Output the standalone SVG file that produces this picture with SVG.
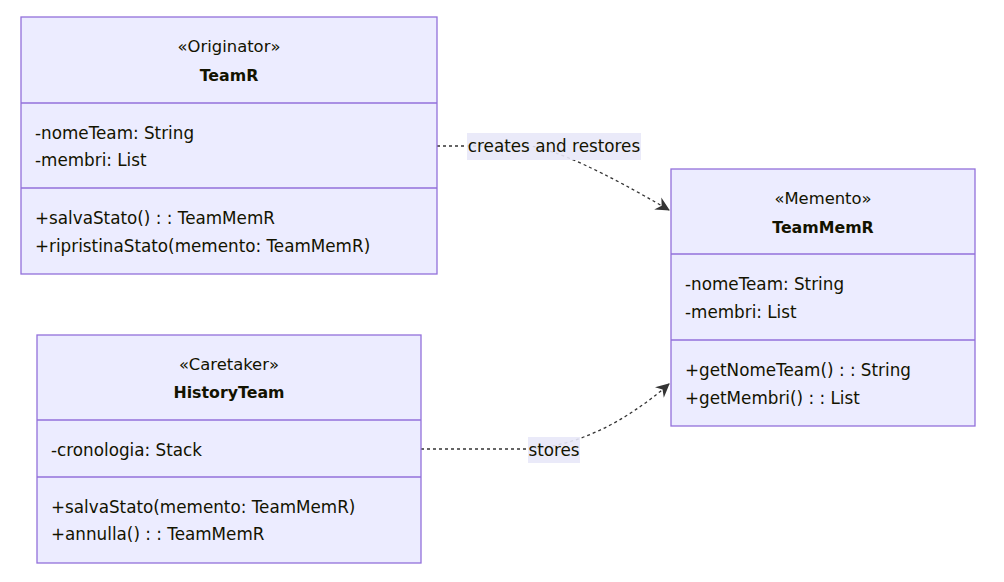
<svg xmlns="http://www.w3.org/2000/svg" width="1004" height="582" viewBox="0 0 1004 582">
<style>
.box{fill:#ECECFF;stroke:#9370DB;stroke-width:1.3}
.div{stroke:#9370DB;stroke-width:1.3}
text{font-family:"DejaVu Sans",Verdana,sans-serif;font-size:16.8px;fill:#131300}
.c{text-anchor:middle}
.s{font-size:16.4px}
.b{font-weight:bold;font-size:15.8px}
.edge{fill:none;stroke:#333;stroke-width:1.3;stroke-dasharray:3,3}
.lbl{fill:#E8E8F8;opacity:0.9}
</style>
<defs>
<marker id="arr" viewBox="0 0 14 14" refX="13" refY="7" markerWidth="14" markerHeight="14" markerUnits="userSpaceOnUse" orient="auto">
<path d="M0,0 L14,7 L0,14 L4.5,7 z" fill="#333"/>
</marker>
</defs>
<g id="connectors">
<path class="edge" d="M437,146 L530,146 Q 570,152 669,210" marker-end="url(#arr)"/>
<rect class="lbl" x="467" y="133" width="174" height="27"/>
<text x="554" y="152" class="c">creates and restores</text>
<path class="edge" d="M421,449 L530,449 Q 600,444 669,384" marker-end="url(#arr)"/>
<rect class="lbl" x="528" y="437" width="52" height="26"/>
<text x="554" y="456" class="c">stores</text>
</g>
<g id="TeamR">
<rect class="box" x="21" y="17" width="416" height="257"/>
<line class="div" x1="21" y1="103" x2="437" y2="103"/>
<line class="div" x1="21" y1="188" x2="437" y2="188"/>
<text x="229" y="52" class="c s">«Originator»</text>
<text x="229" y="81" class="c b">TeamR</text>
<text x="35" y="139">-nomeTeam: String</text>
<text x="35" y="166">-membri: List</text>
<text x="35" y="224">+salvaStato() : : TeamMemR</text>
<text x="35" y="252">+ripristinaStato(memento: TeamMemR)</text>
</g>
<g id="HistoryTeam">
<rect class="box" x="37" y="335" width="384" height="228"/>
<line class="div" x1="37" y1="420" x2="421" y2="420"/>
<line class="div" x1="37" y1="477" x2="421" y2="477"/>
<text x="229" y="370" class="c s">«Caretaker»</text>
<text x="229" y="398" class="c b">HistoryTeam</text>
<text x="51" y="456">-cronologia: Stack</text>
<text x="51" y="513">+salvaStato(memento: TeamMemR)</text>
<text x="51" y="540">+annulla() : : TeamMemR</text>
</g>
<g id="TeamMemR">
<rect class="box" x="671" y="169" width="304" height="257"/>
<line class="div" x1="671" y1="254" x2="975" y2="254"/>
<line class="div" x1="671" y1="340" x2="975" y2="340"/>
<text x="823" y="204" class="c s">«Memento»</text>
<text x="823" y="233" class="c b">TeamMemR</text>
<text x="685" y="290">-nomeTeam: String</text>
<text x="685" y="318">-membri: List</text>
<text x="685" y="376">+getNomeTeam() : : String</text>
<text x="685" y="404">+getMembri() : : List</text>
</g>
</svg>
